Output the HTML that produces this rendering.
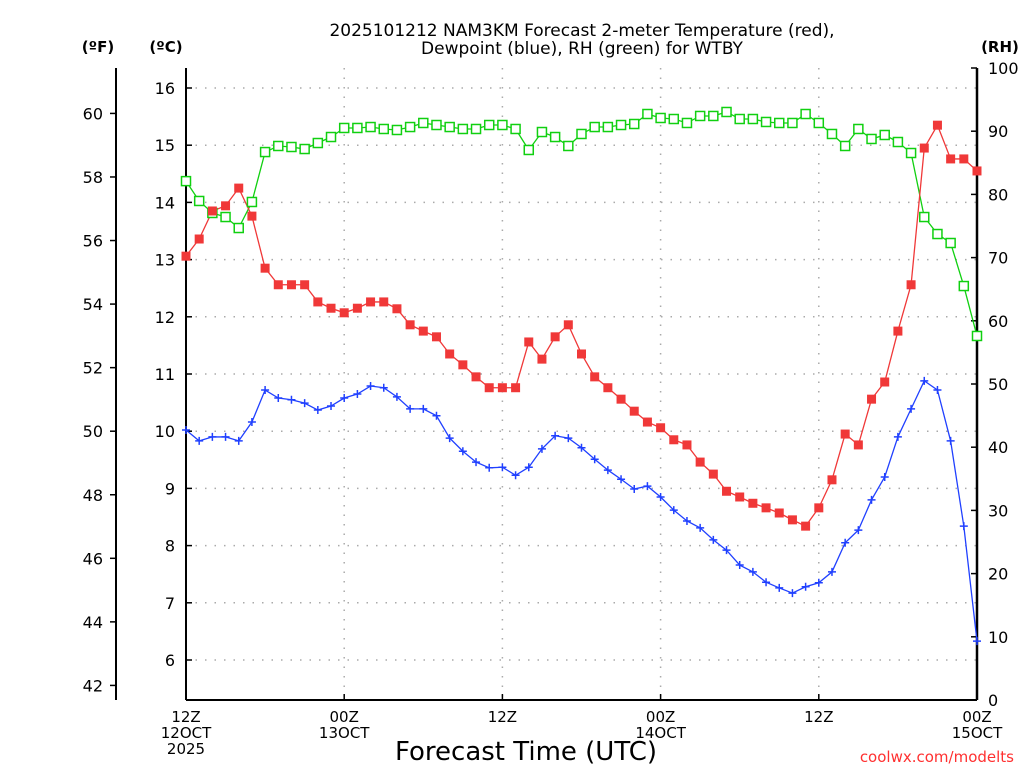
<!DOCTYPE html>
<html><head><meta charset="utf-8"><style>
body{margin:0;background:#fff;}
svg text{font-family:"DejaVu Sans","Liberation Sans",sans-serif;}
</style></head><body>
<svg id="chart" width="1024" height="768" xmlns="http://www.w3.org/2000/svg">
<rect width="1024" height="768" fill="#fff"/>
<text x="582" y="36" font-size="17" text-anchor="middle">2025101212 NAM3KM Forecast 2-meter Temperature (red),</text>
<text x="582" y="54" font-size="17" text-anchor="middle">Dewpoint (blue), RH (green) for WTBY</text>
<text x="98" y="52" font-size="15" font-weight="bold" text-anchor="middle">(ºF)</text>
<text x="166" y="52" font-size="15" font-weight="bold" text-anchor="middle">(ºC)</text>
<text x="1000" y="52" font-size="15" font-weight="bold" text-anchor="middle">(RH)</text>
<text x="526" y="760" font-size="26" text-anchor="middle">Forecast Time (UTC)</text>
<text x="1014" y="762" font-size="15" fill="#ff3030" text-anchor="end">coolwx.com/modelts</text>
<g id="grid"></g><g id="axes"></g><g id="series"></g>
</svg>
<script>
const hours = [];
for (let i = 0; i <= 60; i++) hours.push(i);
const tempC = [13.06,13.36,13.85,13.94,14.25,13.76,12.85,12.56,12.56,12.56,12.26,12.15,12.07,12.15,12.26,12.26,12.14,11.86,11.75,11.65,11.35,11.16,10.95,10.76,10.76,10.76,11.56,11.26,11.65,11.86,11.35,10.95,10.76,10.56,10.35,10.16,10.06,9.85,9.76,9.46,9.25,8.95,8.85,8.74,8.66,8.57,8.45,8.34,8.66,9.15,9.95,9.76,10.56,10.86,11.75,12.56,14.95,15.35,14.76,14.76,14.55];
const dewC = [10.02,9.83,9.90,9.90,9.83,10.16,10.72,10.58,10.55,10.49,10.37,10.44,10.58,10.65,10.79,10.76,10.60,10.39,10.39,10.27,9.88,9.65,9.46,9.36,9.37,9.23,9.37,9.69,9.92,9.88,9.71,9.51,9.32,9.16,8.99,9.04,8.85,8.62,8.43,8.31,8.10,7.92,7.66,7.54,7.36,7.26,7.17,7.28,7.35,7.54,8.05,8.27,8.80,9.20,9.90,10.39,10.88,10.72,9.83,8.34,6.33];
const rh = [82.1,78.96,77.06,76.42,74.68,78.8,86.7,87.66,87.5,87.18,88.13,89.08,90.51,90.51,90.66,90.35,90.19,90.66,91.3,90.98,90.66,90.35,90.35,90.98,90.98,90.35,87.03,89.87,89.08,87.66,89.56,90.66,90.66,90.98,91.14,92.72,92.09,91.93,91.3,92.41,92.41,93.04,91.93,91.93,91.46,91.3,91.3,92.72,91.3,89.56,87.66,90.35,88.77,89.4,88.29,86.55,76.42,73.73,72.31,65.5,57.6];
const cTicks = [6,7,8,9,10,11,12,13,14,15,16];
const fTicks = [42,44,46,48,50,52,54,56,58,60];
const rhTicks = [0,10,20,30,40,50,60,70,80,90,100];
const xTickHours = [0,12,24,36,48,60];
const xTickLabels = [["12Z","12OCT","2025"],["00Z","13OCT"],["12Z"],["00Z","14OCT"],["12Z"],["00Z","15OCT"]];

const X0=186,X1=977,Y0=68,Y1=700;
const xs = h => X0 + (h/60)*(X1-X0);
const yC = c => 660 - (c-6)*57.2;
const yF = f => yC((f-32)/1.8);
const yRH = r => Y1 - r*(Y1-Y0)/100;
const NS="http://www.w3.org/2000/svg";
function mk(parent,tag,attrs){const e=document.createElementNS(NS,tag);for(const k in attrs)e.setAttribute(k,attrs[k]);parent.appendChild(e);return e;}
const grid=document.getElementById('grid'), axes=document.getElementById('axes'), series=document.getElementById('series');

cTicks.forEach(c=>{
  const g=mk(grid,'line',{x1:X0,x2:X1,y1:yC(c),y2:yC(c),stroke:'#aaa','stroke-width':1.5,'stroke-dasharray':'1.5 8'});
  
  
  const t=mk(axes,'text',{x:175,y:yC(c)+6,'font-size':16,'text-anchor':'end'});
  t.textContent=c;
  
  
  mk(axes,'line',{x1:X0,x2:X0+6,y1:yC(c),y2:yC(c),stroke:'#000','stroke-width':1.5});
});
xTickHours.forEach((h,i)=>{
  if(h>0&&h<60){
    const g=mk(grid,'line',{x1:xs(h),x2:xs(h),y1:Y0,y2:Y1,stroke:'#aaa','stroke-width':1.5,'stroke-dasharray':'1.5 8'});
    
    
  }
  mk(axes,'line',{x1:xs(h),x2:xs(h),y1:Y1,y2:Y1-6,stroke:'#000','stroke-width':1.5});
  xTickLabels[i].forEach((s,j)=>{
    const t=mk(axes,'text',{x:xs(h),y:722+j*16,'font-size':15,'text-anchor':'middle'});
    t.textContent=s;
    
    
  });
});
fTicks.forEach(f=>{
  mk(axes,'line',{x1:116,x2:110,y1:yF(f),y2:yF(f),stroke:'#000','stroke-width':1.5});
  const t=mk(axes,'text',{x:103,y:yF(f)+6,'font-size':16,'text-anchor':'end'});
  t.textContent=f;
  
  
});
rhTicks.forEach(r=>{
  mk(axes,'line',{x1:X1,x2:X1-6,y1:yRH(r),y2:yRH(r),stroke:'#000','stroke-width':1.5});
  const t=mk(axes,'text',{x:988,y:yRH(r)+6,'font-size':16,'text-anchor':'start'});
  t.textContent=r;
  
  
});
let a;
a=mk(axes,'line',{x1:116,x2:116,y1:Y0,y2:Y1,stroke:'#000','stroke-width':2});


a=mk(axes,'line',{x1:X0,x2:X0,y1:Y0,y2:Y1,stroke:'#000','stroke-width':2});


a=mk(axes,'line',{x1:X1,x2:X1,y1:Y0,y2:Y1,stroke:'#000','stroke-width':2.5});


a=mk(axes,'line',{x1:X0,x2:X1,y1:Y1,y2:Y1,stroke:'#000','stroke-width':2});



function line(vals,yf,color,name){
  const p=mk(series,'polyline',{points:vals.map((v,i)=>xs(hours[i])+','+yf(v)).join(' '),fill:'none',stroke:color,'stroke-width':1.3});
  
  
}
line(rh,yRH,'#10d010','rh-line');
line(tempC,yC,'#f03838','temperature-line');
line(dewC,yC,'#2040ff','dewpoint-line');
rh.forEach((v,i)=>{
  const m=mk(series,'rect',{x:xs(hours[i])-4.5,y:yRH(v)-4.5,width:9,height:9,fill:'#fff',stroke:'#10d010','stroke-width':1.5});
  
  
});
tempC.forEach((v,i)=>{
  const m=mk(series,'rect',{x:xs(hours[i])-4.5,y:yC(v)-4.5,width:9,height:9,fill:'#f03838'});
  
  
});
dewC.forEach((v,i)=>{
  const x=xs(hours[i]),y=yC(v);
  const m=mk(series,'path',{d:`M${x-4},${y}H${x+4}M${x},${y-4}V${y+4}`,stroke:'#2040ff','stroke-width':1.5});
  
  
});
</script>
</body></html>
